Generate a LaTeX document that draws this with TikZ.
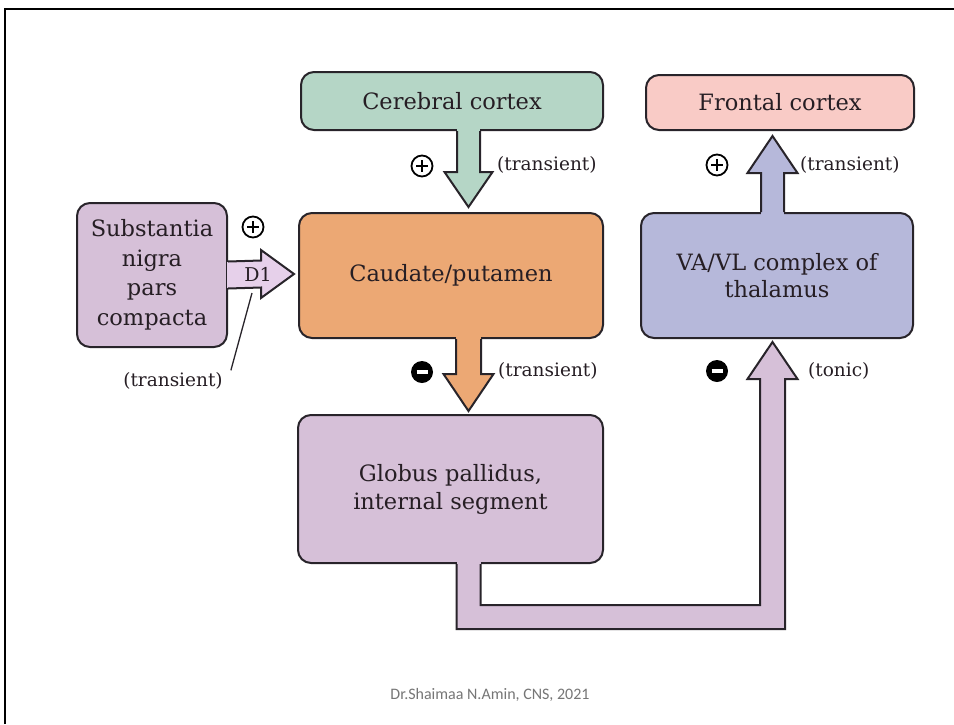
\documentclass[tikz,border=0pt]{standalone}
\usepackage{fontspec}
\newfontfamily\footfont{Carlito}
\newfontfamily\serifdv{DejaVu Serif}
\usetikzlibrary{calc}

\definecolor{edge}{RGB}{40,36,42}
\definecolor{txt}{RGB}{38,30,36}
\definecolor{ccfill}{RGB}{181,214,198}
\definecolor{fcfill}{RGB}{249,203,198}
\definecolor{cpfill}{RGB}{236,168,116}
\definecolor{thfill}{RGB}{182,184,218}
\definecolor{gpfill}{RGB}{214,192,216}
\definecolor{dafill}{RGB}{230,208,234}
\definecolor{foot}{RGB}{118,118,118}

% vertical block arrow: #1 base on source box, #2 tip, #3 shaft half width,
% #4 head half width, #5 head length, #6 fill, #7 = 1 (down) or -1 (up)
\newcommand{\vblockarrow}[7]{%
  \fill[#6] ($(#1)+(-#3,{-3*(#7)})$) rectangle ($(#2)+(#3,{-(#5)*(#7)})$);
  \filldraw[fill=#6, arrowedge] ($(#1)+(-#3,0)$) -- ($(#2)+(-#3,{-(#5)*(#7)})$)
    -- ($(#2)+(-#4,{-(#5)*(#7)})$) -- (#2) -- ($(#2)+(#4,{-(#5)*(#7)})$)
    -- ($(#2)+(#3,{-(#5)*(#7)})$) -- ($(#1)+(#3,0)$);
}

\begin{document}
\begin{tikzpicture}[x=1pt,y=-1pt,
  box/.style={draw=edge, line width=2pt, rounded corners=13pt, inner sep=0pt,
    align=center, text=txt, font=\serifdv\fontsize{22.5}{28}\selectfont},
  arrowedge/.style={draw=edge, line width=2pt, line join=miter},
  lbl/.style={text=txt, inner sep=0pt, font=\serifdv\fontsize{18.5}{22}\selectfont},
  plussign/.style={circle, draw=black, line width=1.8pt, fill=white,
    minimum size=21pt, inner sep=0pt,
    path picture={\draw[black, line width=2.6pt]
      ($(path picture bounding box.center)+(-6,0)$) -- ++(12,0)
      ($(path picture bounding box.center)+(0,-6)$) -- ++(0,12);}},
  minussign/.style={circle, fill=black, minimum size=22pt, inner sep=0pt,
    path picture={\draw[white, line width=3.2pt]
      ($(path picture bounding box.center)+(-5.5,0)$) -- ++(11,0);}}
]
\useasboundingbox (0,0) rectangle (954,724);
\fill[white] (0,0) rectangle (954,724);

% slide frame
\draw[black, line width=2pt] (5,724) -- (5,9) -- (954,9);

% boxes
\node[box, fill=ccfill, minimum width=302pt, minimum height=58pt] (cc) at (452,101) {Cerebral cortex};
\node[box, fill=fcfill, minimum width=268pt, minimum height=55pt] (fc) at (780,102.5) {Frontal cortex};
\node[box, fill=gpfill, minimum width=150pt, minimum height=144pt,
      font=\serifdv\fontsize{22.5}{29.5}\selectfont] (sn) at (152,275) {Substantia\\nigra\\pars\\compacta};
\node[box, fill=cpfill, minimum width=304pt, minimum height=125pt] (cp) at (451,275.5) {Caudate/putamen};
\node[box, fill=thfill, minimum width=272pt, minimum height=125pt,
      font=\serifdv\fontsize{22.5}{27}\selectfont] (th) at (777,275.5) {VA/VL complex of\\thalamus};
\node[box, fill=gpfill, minimum width=305pt, minimum height=148pt] (gp) at (450.5,489) {Globus pallidus,\\internal segment};

% shaft axes
\coordinate (ax) at (468.5,0);
\coordinate (bx) at (772.5,0);

% cerebral cortex -> caudate/putamen
\coordinate (g0) at (ax |- cc.south);
\coordinate (g1t) at (ax |- cp.north);
\coordinate (g1) at ($(g1t)+(0,-5)$);
\vblockarrow{g0}{g1}{11.5}{24}{35}{ccfill}{1}

% caudate/putamen -> globus pallidus
\coordinate (o0) at (ax |- cp.south);
\coordinate (o1t) at (ax |- gp.north);
\coordinate (o1) at ($(o1t)+(0,-3)$);
\vblockarrow{o0}{o1}{12.5}{25}{37}{cpfill}{1}

% thalamus -> frontal cortex
\coordinate (f0) at (bx |- th.north);
\coordinate (f1t) at (bx |- fc.south);
\coordinate (f1) at ($(f1t)+(0,5)$);
\vblockarrow{f0}{f1}{11.5}{25}{37}{thfill}{-1}

% substantia nigra -> caudate/putamen (D1)
\coordinate (d0) at (sn.east);
\coordinate (d1) at ($(cp.west)+(-4,-1.5)$);
\fill[dafill] ($(d0)+(-1.2,-13.5)$) rectangle ($(d1)+(-33,13.5)$);
\filldraw[fill=dafill, arrowedge] ($(d0)+(0,-13.5)$) -- ($(d1)+(-33,-13.5)$)
  -- ($(d1)+(-33,-24)$) -- (d1) -- ($(d1)+(-33,24)$) -- ($(d1)+(-33,13.5)$)
  -- ($(d0)+(0,13.5)$);
\node[lbl, font=\serifdv\fontsize{19}{22}\selectfont] (d1lbl) at ($(d1)+(-36,0)$) {D1};

% globus pallidus -> thalamus (tonic)
\coordinate (t0) at (ax |- gp.south);
\coordinate (t1t) at (bx |- th.south);
\coordinate (t1) at ($(t1t)+(0,3)$);
\coordinate (ty) at (0,617);
\coordinate (tb0) at (t0 |- ty);
\coordinate (tb1) at (t1 |- ty);
\fill[gpfill] ($(t0)+(-12,-3)$) rectangle ($(tb0)+(12,0)$);
\filldraw[fill=gpfill, arrowedge] ($(t0)+(-12,0)$) -- ($(tb0)+(-12,12)$)
  -- ($(tb1)+(12.5,12)$) -- ($(t1)+(12.5,37)$) -- ($(t1)+(25,37)$) -- (t1)
  -- ($(t1)+(-25,37)$) -- ($(t1)+(-12.5,37)$) -- ($(tb1)+(-12.5,-12)$)
  -- ($(tb0)+(12,-12)$) -- ($(t0)+(12,0)$);

% signs
\node[plussign] (s1) at (422,166) {};
\node[plussign] (s2) at (717,165) {};
\node[plussign] (s3) at (253,227) {};
\node[minussign] (s4) at (422,372) {};
\node[minussign] (s5) at (717,371) {};

% labels
\node[lbl, anchor=west] (l1) at (497,165) {(transient)};
\node[lbl, anchor=west] (l2) at (800,165) {(transient)};
\node[lbl, anchor=west] (l3) at (498,371) {(transient)};
\node[lbl, anchor=west] (l4) at (808,371) {(tonic)};
\node[lbl] (l5) at (173,381) {(transient)};
\coordinate (lead) at (252,293);
\draw[edge, line width=1.3pt] (lead) -- ($(l5.north east)+(8,-2)$);

% footer
\node[text=foot, font=\footfont\fontsize{16}{19}\selectfont] (ft) at (490,695) {Dr.Shaimaa N.Amin, CNS, 2021};
\end{tikzpicture}
\end{document}
